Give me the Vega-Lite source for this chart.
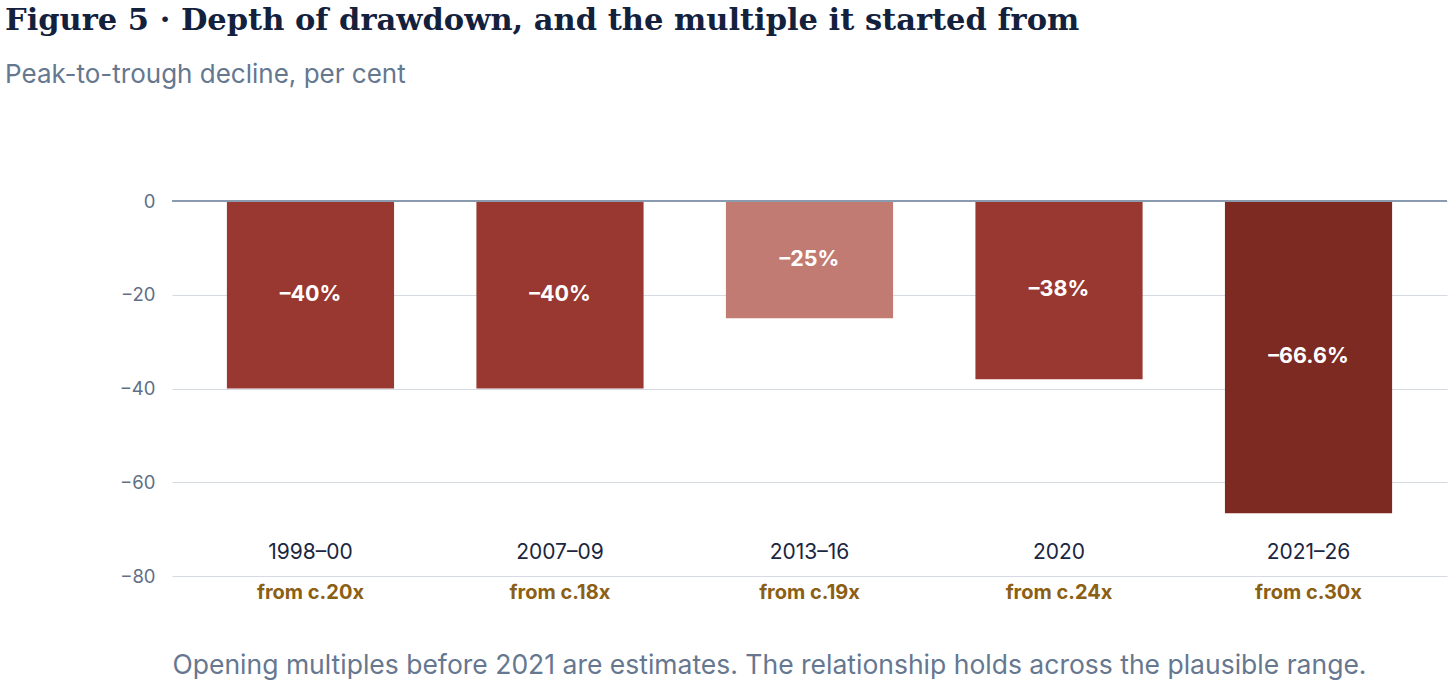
{
  "$schema": "https://vega.github.io/schema/vega-lite/v6.json",
  "autosize": {"type": "none"},
  "width": 1275,
  "height": 375,
  "padding": {"left": 172, "top": 201, "right": 9, "bottom": 106},
  "background": "white",
  "title": {
    "text": "Figure 5 · Depth of drawdown, and the multiple it started from",
    "subtitle": "Peak-to-trough decline, per cent",
    "anchor": "start",
    "frame": "group",
    "dx": -167,
    "offset": 104,
    "font": "DejaVu Serif",
    "fontSize": 30.5,
    "fontWeight": "bold",
    "color": "#14213d",
    "subtitleFont": "Inter",
    "subtitleFontSize": 26,
    "subtitleColor": "#667790",
    "subtitlePadding": 26
  },
  "data": {
    "values": [
      {"period": "1998–00", "multiple": "from c.20x", "value": -40, "label": "–40%"},
      {"period": "2007–09", "multiple": "from c.18x", "value": -40, "label": "–40%"},
      {"period": "2013–16", "multiple": "from c.19x", "value": -25, "label": "–25%"},
      {"period": "2020", "multiple": "from c.24x", "value": -38, "label": "–38%"},
      {"period": "2021–26", "multiple": "from c.30x", "value": -66.6, "label": "–66.6%"}
    ]
  },
  "layer": [
    {
      "mark": {"type": "bar"},
      "encoding": {
        "x": {
          "field": "multiple",
          "type": "nominal",
          "sort": null,
          "scale": {"paddingInner": 0.33, "paddingOuter": 0.22},
          "axis": {
            "orient": "bottom",
            "domain": false,
            "ticks": false,
            "labelAngle": 0,
            "labelFont": "Inter",
            "labelFontSize": 20,
            "labelFontWeight": "bold",
            "labelColor": "#8b6014",
            "labelPadding": 6,
            "title": "Opening multiples before 2021 are estimates. The relationship holds across the plausible range.",
            "titleAnchor": "start",
            "titleAlign": "left",
            "titleFont": "Inter",
            "titleFontSize": 26.5,
            "titleFontWeight": "normal",
            "titleColor": "#667790",
            "titlePadding": 50
          }
        },
        "y": {
          "field": "value",
          "type": "quantitative",
          "scale": {"domain": [-80, 0]},
          "axis": {
            "values": [0, -20, -40, -60, -80],
            "title": null,
            "domain": false,
            "ticks": false,
            "labelFont": "Inter",
            "labelFontSize": 18.5,
            "labelColor": "#5f6f86",
            "labelPadding": 17,
            "gridColor": "#d5dae5",
            "gridWidth": 1.2
          }
        },
        "color": {
          "field": "period",
          "type": "nominal",
          "legend": null,
          "scale": {
            "domain": ["1998–00", "2007–09", "2013–16", "2020", "2021–26"],
            "range": ["#993830", "#993830", "#c17b72", "#993830", "#7d2a23"]
          }
        }
      }
    },
    {
      "mark": {"type": "rule", "color": "#8a9bb0", "strokeWidth": 2},
      "encoding": {"y": {"datum": 0}}
    },
    {
      "transform": [{"calculate": "datum.value / 2", "as": "mid"}],
      "mark": {
        "type": "text",
        "font": "Inter",
        "fontSize": 21.5,
        "fontWeight": "bold",
        "color": "white",
        "baseline": "middle"
      },
      "encoding": {
        "x": {"field": "multiple", "type": "nominal", "sort": null},
        "y": {"field": "mid", "type": "quantitative"},
        "text": {"field": "label"}
      }
    },
    {
      "mark": {
        "type": "text",
        "font": "Inter",
        "fontSize": 21,
        "color": "#1b2640",
        "baseline": "middle"
      },
      "encoding": {
        "x": {"field": "multiple", "type": "nominal", "sort": null},
        "y": {"datum": -75},
        "text": {"field": "period"}
      }
    }
  ],
  "config": {
    "view": {"stroke": null}
  }
}
